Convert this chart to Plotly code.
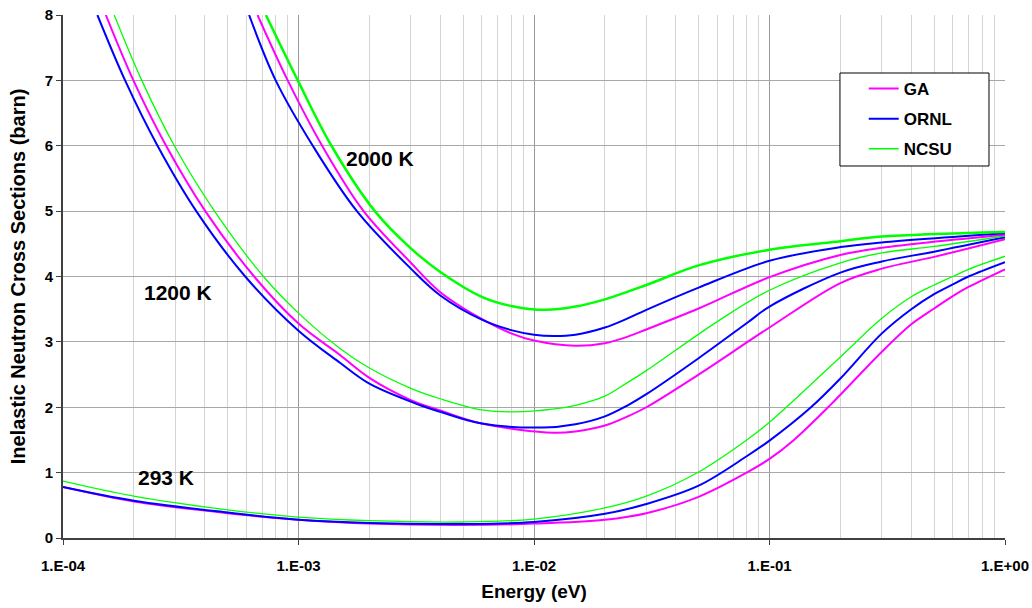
import math
import plotly.graph_objects as go

# ---------------- data ----------------
energy_ticks = [1e-4, 1e-3, 1e-2, 1e-1, 1.0]
energy_tick_labels = ["1.E-04", "1.E-03", "1.E-02", "1.E-01", "1.E+00"]
y_ticks = [0, 1, 2, 3, 4, 5, 6, 7, 8]

sources = ["GA", "ORNL", "NCSU"]
temperatures = ["293 K", "1200 K", "2000 K"]

# 293 K
e_293_ga = [1e-4, 2e-4, 5e-4, 1e-3, 2e-3, 5e-3, 1e-2, 2e-2, 3e-2, 5e-2, 8e-2, 0.1, 0.127, 0.182, 0.3, 0.4, 0.5, 0.6, 0.7, 1.0]
xs_293_ga = [0.78, 0.56, 0.38, 0.28, 0.22, 0.20, 0.22, 0.28, 0.38, 0.63, 1.00, 1.21, 1.50, 2.04, 2.85, 3.27, 3.51, 3.70, 3.84, 4.11]
e_293_ornl = [1e-4, 2e-4, 5e-4, 1e-3, 2e-3, 5e-3, 1e-2, 2e-2, 3e-2, 5e-2, 8e-2, 0.1, 0.15, 0.2, 0.3, 0.4, 0.5, 0.6, 0.7, 1.0]
xs_293_ornl = [0.78, 0.57, 0.39, 0.28, 0.23, 0.215, 0.245, 0.37, 0.52, 0.80, 1.25, 1.49, 2.00, 2.44, 3.13, 3.50, 3.73, 3.88, 4.00, 4.22]
e_293_ncsu = [1e-4, 2e-4, 5e-4, 1e-3, 2e-3, 5e-3, 1e-2, 2e-2, 3e-2, 5e-2, 8e-2, 0.1, 0.2, 0.3, 0.4, 0.5, 0.6, 0.7, 1.0]
xs_293_ncsu = [0.87, 0.64, 0.43, 0.32, 0.265, 0.245, 0.29, 0.46, 0.64, 1.01, 1.50, 1.77, 2.77, 3.36, 3.69, 3.87, 4.00, 4.11, 4.31]

# 1200 K
e_1200_ga = [1.52e-4, 1.99e-4, 2.74e-4, 4.02e-4, 6.48e-4, 1e-3, 1.5e-3, 2e-3, 3e-3, 4e-3, 6e-3, 1.21e-2, 1.5e-2, 2e-2, 2.5e-2, 3e-2, 5e-2, 0.1, 0.2, 0.3, 0.5, 1.0]
xs_1200_ga = [8.0, 7.0, 6.0, 5.0, 4.0, 3.28, 2.80, 2.45, 2.11, 1.95, 1.75, 1.61, 1.63, 1.72, 1.86, 2.00, 2.50, 3.22, 3.90, 4.12, 4.30, 4.57]
e_1200_ornl = [1.40e-4, 1.835e-4, 2.52e-4, 3.68e-4, 5.94e-4, 1e-3, 1.5e-3, 2e-3, 3.29e-3, 4e-3, 6e-3, 1.1e-2, 1.5e-2, 2e-2, 2.5e-2, 3e-2, 5e-2, 8.1e-2, 0.1, 0.2, 0.3, 0.5, 1.0]
xs_1200_ornl = [8.0, 7.0, 6.0, 5.0, 4.0, 3.17, 2.68, 2.36, 2.03, 1.93, 1.75, 1.69, 1.74, 1.86, 2.03, 2.20, 2.75, 3.30, 3.54, 4.06, 4.23, 4.38, 4.60]
e_1200_ncsu = [1.65e-4, 2.16e-4, 2.97e-4, 4.4e-4, 7.1e-4, 1e-3, 1.5e-3, 2e-3, 3e-3, 4e-3, 6e-3, 8.2e-3, 1.2e-2, 1.5e-2, 2e-2, 2.5e-2, 3e-2, 6e-2, 0.1, 0.2, 0.3, 0.5, 1.0]
xs_1200_ncsu = [8.0, 7.0, 6.0, 5.0, 4.0, 3.44, 2.90, 2.60, 2.29, 2.13, 1.96, 1.93, 1.97, 2.03, 2.17, 2.38, 2.56, 3.31, 3.79, 4.21, 4.36, 4.46, 4.62]

# 2000 K
e_2000_ga = [6.7e-4, 9.0e-4, 1.26e-3, 1.89e-3, 3e-3, 4e-3, 6e-3, 8e-3, 1e-2, 1.5e-2, 2e-2, 2.5e-2, 3e-2, 5e-2, 0.1, 0.2, 0.3, 1.0]
xs_2000_ga = [8.0, 7.0, 6.0, 5.0, 4.21, 3.76, 3.35, 3.13, 3.02, 2.94, 2.98, 3.08, 3.19, 3.51, 3.99, 4.33, 4.44, 4.64]
e_2000_ornl = [6.17e-4, 8.0e-4, 1.15e-3, 1.77e-3, 3e-3, 4e-3, 6e-3, 8e-3, 1e-2, 1.21e-2, 1.5e-2, 2e-2, 2.5e-2, 3e-2, 5e-2, 0.1, 0.2, 0.3, 1.0]
xs_2000_ornl = [8.0, 7.0, 6.0, 5.0, 4.12, 3.71, 3.34, 3.18, 3.11, 3.09, 3.11, 3.22, 3.36, 3.49, 3.83, 4.24, 4.45, 4.52, 4.66]
e_2000_ncsu = [7.27e-4, 9.93e-4, 1.38e-3, 2.11e-3, 3e-3, 4e-3, 6e-3, 8e-3, 1.12e-2, 1.5e-2, 2e-2, 3e-2, 5e-2, 0.1, 0.2, 0.3, 1.0]
xs_2000_ncsu = [8.0, 7.0, 6.0, 5.0, 4.43, 4.07, 3.69, 3.55, 3.49, 3.54, 3.65, 3.87, 4.17, 4.41, 4.54, 4.61, 4.68]

# temperature label anchors (energy, cross section)
label_energy = [2.74e-4, 3.08e-4, 2.22e-3]
label_xs = [0.93, 3.75, 5.81]

# ---------------- styling ----------------
colors = {"GA": "#FF00FF", "ORNL": "#0000FF", "NCSU": "#00FF00"}
FONT = "Liberation Sans, Arial, sans-serif"

series = [
    ("293 K", "GA", e_293_ga, xs_293_ga, 2.0),
    ("293 K", "ORNL", e_293_ornl, xs_293_ornl, 2.0),
    ("293 K", "NCSU", e_293_ncsu, xs_293_ncsu, 1.3),
    ("1200 K", "GA", e_1200_ga, xs_1200_ga, 2.0),
    ("1200 K", "ORNL", e_1200_ornl, xs_1200_ornl, 2.0),
    ("1200 K", "NCSU", e_1200_ncsu, xs_1200_ncsu, 1.3),
    ("2000 K", "GA", e_2000_ga, xs_2000_ga, 2.0),
    ("2000 K", "ORNL", e_2000_ornl, xs_2000_ornl, 2.0),
    ("2000 K", "NCSU", e_2000_ncsu, xs_2000_ncsu, 2.5),
]

fig = go.Figure()
shown = set()
for temp, src, ex, ys, w in series:
    fig.add_trace(go.Scatter(
        x=ex, y=ys, mode="lines", name=src, legendgroup=src,
        showlegend=src not in shown,
        legendrank=sources.index(src) + 1,
        line=dict(color=colors[src], width=w, shape="spline", smoothing=1.0),
        hovertemplate=temp + " " + src + "<br>E=%{x}<br>σ=%{y}<extra></extra>",
    ))
    shown.add(src)

for txt, ex, ys in zip(temperatures, label_energy, label_xs):
    fig.add_annotation(x=math.log10(ex), y=ys, xref="x", yref="y", text=txt,
                       showarrow=False,
                       font=dict(family=FONT, size=21, color="black", weight="bold"))

# y-axis title (rotated text close to the page edge like the original)
fig.add_annotation(x=-0.048, y=0.5, xref="paper", yref="paper",
                   text="Inelastic Neutron Cross Sections (barn)", textangle=-90,
                   showarrow=False, xanchor="center", yanchor="middle",
                   font=dict(family=FONT, size=20, color="black", weight="bold"))

# legend frame
fig.add_shape(type="rect", xref="paper", yref="paper",
              x0=0.8248, x1=0.983, y0=0.7113, y1=0.8891,
              line=dict(color="black", width=1), fillcolor="white", layer="above")

fig.update_layout(
    width=1032, height=608,
    margin=dict(l=63, r=27, t=15, b=70),
    paper_bgcolor="white", plot_bgcolor="white",
    font=dict(family=FONT, color="black"),
    showlegend=True,
    legend=dict(
        x=0.850, y=0.8929, xanchor="left", yanchor="top",
        bgcolor="rgba(0,0,0,0)", borderwidth=0,
        font=dict(family=FONT, size=17, color="black", weight="bold"),
        traceorder="grouped", tracegroupgap=5,
    ),
    xaxis=dict(
        type="log", range=[-4, 0],
        tickvals=energy_ticks, ticktext=energy_tick_labels,
        tickfont=dict(family=FONT, size=15, color="black", weight="bold"),
        ticks="outside", ticklen=5, tickcolor="#404040", tickwidth=1,
        ticklabelstandoff=8,
        showgrid=True, gridcolor="#9a9a9a", gridwidth=1,
        minor=dict(dtick="D1", showgrid=True, gridcolor="#d4d4d4", gridwidth=1, ticks=""),
        showline=True, linecolor="#404040", linewidth=2,
        zeroline=False,
        title=dict(text="Energy (eV)", standoff=12,
                   font=dict(family=FONT, size=19, color="black", weight="bold")),
        automargin=False,
    ),
    yaxis=dict(
        range=[0, 8], tickvals=y_ticks,
        tickfont=dict(family=FONT, size=15, color="black", weight="bold"),
        ticks="outside", ticklen=5, tickcolor="#404040", tickwidth=1,
        showgrid=True, gridcolor="#a8a8a8", gridwidth=1,
        showline=True, linecolor="#404040", linewidth=2,
        zeroline=False,
        automargin=False,
    ),
)

fig.write_html("out.html", config={"displayModeBar": False},
               post_script="document.body.style.margin='0px';document.body.style.overflow='hidden';")
